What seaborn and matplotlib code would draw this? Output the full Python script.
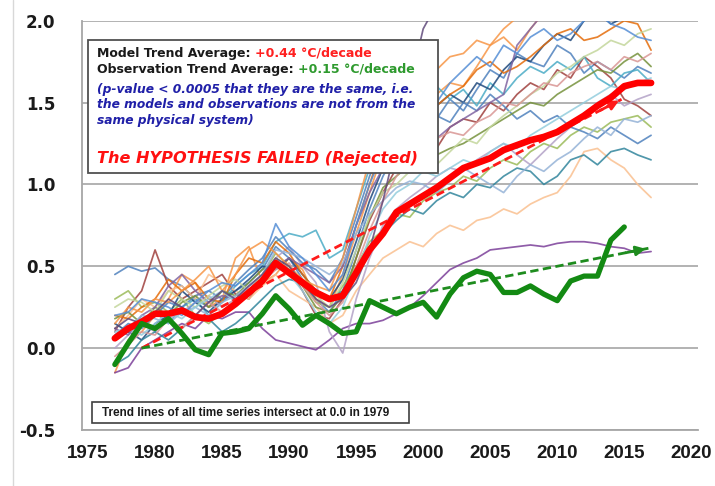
import numpy as np
import pandas as pd
import matplotlib.pyplot as plt
import seaborn as sns
from matplotlib.lines import Line2D
from matplotlib.patches import Rectangle

# ---------------- data ----------------
years = list(range(1977, 2018))
obs_years = list(range(1977, 2016))

# individual model runs, 1977..2017
run_01 = [0.45, 0.50, 0.47, 0.49, 0.42, 0.38, 0.30, 0.25, 0.28, 0.35,
          0.40, 0.48, 0.62, 0.55, 0.42, 0.30, 0.22, 0.35, 0.60, 0.85,
          1.05, 1.20, 1.32, 1.28, 1.40, 1.52, 1.45, 1.58, 1.70, 1.65,
          1.80, 1.75, 1.72, 1.85, 1.80, 1.68, 1.75, 1.70, 1.65, 1.72, 1.68]
run_02 = [0.10, 0.25, 0.35, 0.60, 0.38, 0.30, 0.35, 0.40, 0.45, 0.33,
          0.30, 0.42, 0.55, 0.48, 0.35, 0.20, 0.18, 0.30, 0.55, 0.78,
          0.95, 1.10, 1.15, 1.25, 1.22, 1.35, 1.40, 1.38, 1.50, 1.45,
          1.55, 1.62, 1.58, 1.70, 1.65, 1.78, 1.72, 1.65, 1.52, 1.48, 1.42]
run_03 = [-0.15, 0.05, 0.10, 0.20, 0.30, 0.45, 0.40, 0.25, 0.30, 0.55,
          0.62, 0.40, 0.45, 0.55, 0.48, 0.30, 0.25, 0.45, 0.70, 0.95,
          1.20, 1.15, 1.32, 1.45, 1.55, 1.62, 1.60, 1.72, 1.85, 1.90,
          1.82, 1.95, 2.05, 2.10, 2.15, 2.05, 2.20, 2.15, 2.10, 2.05, 2.12]
run_04 = [-0.15, -0.12, 0.00, 0.05, 0.10, 0.15, 0.12, 0.20, 0.18, 0.22,
          0.22, 0.12, 0.05, 0.03, 0.01, -0.01, 0.05, 0.12, 0.15, 0.15,
          0.17, 0.21, 0.25, 0.32, 0.40, 0.48, 0.52, 0.55, 0.60, 0.61,
          0.62, 0.63, 0.62, 0.64, 0.65, 0.65, 0.64, 0.62, 0.61, 0.58, 0.59]
run_05 = [0.30, 0.35, 0.25, 0.28, 0.22, 0.30, 0.20, 0.15, 0.22, 0.28,
          0.35, 0.45, 0.58, 0.50, 0.40, 0.28, 0.25, 0.38, 0.50, 0.65,
          0.72, 0.82, 0.80, 0.90, 0.95, 0.98, 1.05, 1.02, 1.10, 1.15,
          1.12, 1.20, 1.25, 1.22, 1.30, 1.35, 1.32, 1.38, 1.40, 1.42, 1.35]
run_06 = [0.05, 0.10, 0.18, 0.22, 0.15, 0.25, 0.30, 0.20, 0.28, 0.38,
          0.45, 0.50, 0.65, 0.70, 0.68, 0.72, 0.55, 0.60, 0.85, 1.10,
          1.40, 1.48, 1.45, 1.55, 1.60, 1.52, 1.58, 1.48, 1.62, 1.55,
          1.65, 1.72, 1.68, 1.75, 1.70, 1.78, 1.65, 1.60, 1.68, 1.70, 1.62]
run_07 = [0.12, 0.20, 0.30, 0.25, 0.35, 0.38, 0.30, 0.45, 0.40, 0.35,
          0.30, 0.38, 0.45, 0.35, 0.30, 0.25, 0.15, 0.20, 0.35, 0.45,
          0.55, 0.60, 0.65, 0.62, 0.70, 0.75, 0.72, 0.78, 0.80, 0.85,
          0.82, 0.88, 0.92, 0.95, 1.05, 1.20, 1.22, 1.15, 1.10, 1.00, 0.92]
run_08 = [0.15, 0.10, 0.05, 0.15, 0.20, 0.35, 0.28, 0.22, 0.30, 0.35,
          0.42, 0.50, 0.48, 0.55, 0.45, 0.35, 0.30, 0.42, 0.65, 0.90,
          1.10, 1.25, 1.38, 1.35, 1.48, 1.55, 1.50, 1.62, 1.58, 1.70,
          1.78, 1.75, 1.85, 1.92, 1.88, 2.00, 2.05, 1.98, 2.02, 2.08, 2.05]
run_09 = [0.00, 0.08, 0.15, 0.10, 0.18, 0.22, 0.28, 0.32, 0.25, 0.30,
          0.38, 0.42, 0.55, 0.62, 0.50, 0.40, 0.10, -0.03, 0.30, 0.55,
          0.75, 0.85, 0.92, 0.98, 1.05, 1.10, 1.08, 1.15, 1.20, 1.25,
          1.18, 1.12, 1.20, 1.28, 1.35, 1.42, 1.50, 1.55, 1.48, 1.52, 1.55]
run_10 = [0.08, 0.15, 0.12, 0.20, 0.28, 0.25, 0.32, 0.35, 0.30, 0.40,
          0.48, 0.55, 0.68, 0.60, 0.52, 0.48, 0.40, 0.55, 0.80, 1.05,
          1.25, 1.30, 1.22, 1.35, 1.42, 1.38, 1.50, 1.45, 1.55, 1.48,
          1.40, 1.45, 1.38, 1.42, 1.35, 1.32, 1.28, 1.35, 1.30, 1.25, 1.30]
run_11 = [-0.10, -0.05, 0.05, 0.10, 0.05, 0.12, 0.20, 0.18, 0.10, 0.15,
          0.22, 0.30, 0.38, 0.42, 0.40, 0.35, 0.30, 0.35, 0.48, 0.62,
          0.70, 0.78, 0.85, 0.82, 0.90, 0.95, 0.92, 1.00, 0.98, 1.05,
          1.10, 1.08, 1.00, 1.05, 1.15, 1.18, 1.12, 1.20, 1.22, 1.18, 1.15]
run_12 = [0.20, 0.18, 0.25, 0.30, 0.42, 0.35, 0.40, 0.30, 0.28, 0.45,
          0.55, 0.52, 0.65, 0.58, 0.45, 0.35, 0.30, 0.50, 0.75, 1.00,
          1.25, 1.35, 1.42, 1.50, 1.48, 1.55, 1.60, 1.70, 1.75, 1.68,
          1.72, 1.78, 1.85, 1.92, 1.95, 1.88, 1.90, 1.95, 2.00, 1.98, 1.82]
run_13 = [0.18, 0.22, 0.15, 0.25, 0.20, 0.28, 0.32, 0.25, 0.35, 0.32,
          0.40, 0.48, 0.52, 0.45, 0.38, 0.25, 0.22, 0.32, 0.55, 0.80,
          0.98, 1.05, 1.12, 1.08, 1.18, 1.22, 1.25, 1.30, 1.35, 1.40,
          1.45, 1.50, 1.48, 1.55, 1.60, 1.65, 1.70, 1.68, 1.75, 1.80, 1.72]
run_14 = [0.12, 0.08, 0.20, 0.25, 0.38, 0.45, 0.35, 0.28, 0.32, 0.30,
          0.35, 0.40, 0.50, 0.55, 0.50, 0.45, 0.40, 0.50, 0.75, 0.95,
          1.10, 1.20, 1.25, 1.30, 1.28, 1.35, 1.40, 1.45, 1.50, 1.55,
          1.85, 1.95, 2.05, 2.10, 2.15, 2.10, 2.20, 2.25, 2.20, 2.25, 2.30]
run_15 = [0.25, 0.30, 0.28, 0.22, 0.35, 0.30, 0.25, 0.32, 0.38, 0.42,
          0.35, 0.45, 0.55, 0.48, 0.42, 0.32, 0.25, 0.40, 0.60, 0.80,
          0.95, 1.00, 1.08, 1.15, 1.12, 1.20, 1.28, 1.25, 1.35, 1.42,
          1.48, 1.55, 1.60, 1.68, 1.72, 1.78, 1.82, 1.88, 1.85, 1.92, 1.95]
run_16 = [0.05, 0.12, 0.20, 0.18, 0.15, 0.22, 0.25, 0.20, 0.28, 0.32,
          0.38, 0.45, 0.60, 0.58, 0.55, 0.50, 0.45, 0.52, 0.70, 0.82,
          0.90, 0.98, 1.02, 1.00, 0.95, 1.02, 1.10, 1.05, 1.00, 0.95,
          1.05, 1.12, 1.08, 1.15, 1.20, 1.28, 1.35, 1.30, 1.40, 1.38, 1.42]
run_17 = [-0.05, 0.02, 0.10, 0.08, 0.18, 0.12, 0.20, 0.28, 0.22, 0.30,
          0.36, 0.40, 0.48, 0.52, 0.38, 0.28, 0.20, 0.28, 0.50, 0.72,
          0.90, 1.05, 1.15, 1.20, 1.28, 1.32, 1.30, 1.38, 1.42, 1.50,
          1.48, 1.55, 1.62, 1.60, 1.68, 1.72, 1.75, 1.70, 1.78, 1.75, 1.80]
run_18 = [0.15, 0.25, 0.22, 0.30, 0.28, 0.35, 0.42, 0.50, 0.35, 0.45,
          0.60, 0.65, 0.58, 0.50, 0.42, 0.38, 0.35, 0.55, 0.85, 1.15,
          1.40, 1.50, 1.55, 1.65, 1.70, 1.78, 1.80, 1.88, 1.85, 1.95,
          2.02, 2.10, 2.05, 2.15, 2.20, 2.18, 2.25, 2.20, 2.30, 2.28, 2.35]
run_19 = [0.10, 0.12, 0.08, 0.15, 0.22, 0.18, 0.25, 0.30, 0.35, 0.28,
          0.32, 0.42, 0.50, 0.45, 0.35, 0.22, 0.15, 0.25, 0.45, 0.68,
          0.85, 0.95, 1.00, 1.08, 1.05, 1.10, 1.15, 1.12, 1.20, 1.25,
          1.22, 1.30, 1.35, 1.40, 1.45, 1.50, 1.55, 1.60, 1.58, 1.62, 1.65]
run_20 = [0.20, 0.22, 0.30, 0.28, 0.25, 0.20, 0.28, 0.35, 0.40, 0.38,
          0.45, 0.52, 0.76, 0.62, 0.55, 0.45, 0.35, 0.45, 0.75, 1.00,
          1.20, 1.32, 1.45, 1.55, 1.50, 1.62, 1.70, 1.78, 1.72, 1.85,
          1.80, 1.90, 1.95, 1.88, 1.92, 2.00, 2.05, 1.98, 1.95, 1.90, 1.88]
run_21 = [0.12, 0.18, 0.15, 0.22, 0.30, 0.25, 0.20, 0.28, 0.35, 0.30,
          0.38, 0.45, 0.55, 0.50, 0.40, 0.30, 0.25, 0.30, 0.40, 0.60,
          0.90, 1.25, 1.60, 1.95, 2.10, 2.15, 2.20, 2.25, 2.30, 2.35,
          2.40, 2.35, 2.45, 2.50, 2.45, 2.55, 2.50, 2.60, 2.55, 2.60, 2.65]

model_avg = [0.06, 0.12, 0.16, 0.21, 0.21, 0.23, 0.19, 0.18, 0.21, 0.27,
             0.34, 0.41, 0.52, 0.46, 0.40, 0.34, 0.30, 0.32, 0.46, 0.60,
             0.70, 0.83, 0.88, 0.93, 0.98, 1.04, 1.10, 1.13, 1.16, 1.21,
             1.24, 1.27, 1.29, 1.32, 1.37, 1.42, 1.48, 1.53, 1.60, 1.62, 1.62]
obs_avg = [-0.10, 0.03, 0.15, 0.12, 0.18, 0.09, -0.01, -0.04, 0.09, 0.10,
           0.12, 0.21, 0.32, 0.24, 0.14, 0.20, 0.15, 0.09, 0.10, 0.29,
           0.25, 0.21, 0.25, 0.28, 0.19, 0.33, 0.43, 0.47, 0.45, 0.34,
           0.34, 0.38, 0.33, 0.29, 0.41, 0.44, 0.44, 0.66, 0.74]

# trend lines (start at 0.0 in 1979, arrow at the end)
model_trend_x = [1979, 2014.8]
model_trend_y = [0.0, 1.52]
obs_trend_x = [1979, 2016.8]
obs_trend_y = [0.0, 0.61]

runs = [run_01, run_02, run_03, run_04, run_05, run_06, run_07,
        run_08, run_09, run_10, run_11, run_12, run_13, run_14,
        run_15, run_16, run_17, run_18, run_19, run_20, run_21]
run_colors = ['#4F81BD', '#A0413E', '#F79646', '#7B3F99', '#9BBB59',
              '#4BACC6', '#FAC090', '#1F497D', '#B3A2C7', '#4F81BD',
              '#31859C', '#E46C0A', '#76923C', '#8064A2', '#C3D69B',
              '#95B3D7', '#D99694', '#F79646', '#93CDDD', '#558ED5',
              '#604A7B']

rows = []
for i, r in enumerate(runs):
    assert len(r) == len(years)
    for yr, v in zip(years, r):
        rows.append((f'run{i:02d}', yr, v))
df = pd.DataFrame(rows, columns=['run', 'year', 'anomaly'])
palette = {f'run{i:02d}': c for i, c in enumerate(run_colors)}

# ---------------- figure ----------------
W, H = 715, 486
sns.set_style('white')
plt.rcParams['font.family'] = ['DejaVu Sans']

fig = plt.figure(figsize=(W / 100, H / 100), dpi=100)
ax = fig.add_axes([82 / W, 1 - 430 / H, (698 - 82) / W, (430 - 20.7) / H])

sns.lineplot(data=df, x='year', y='anomaly', hue='run', palette=palette,
             legend=False, linewidth=1.25, alpha=0.85, errorbar=None, ax=ax)

ax.plot(model_trend_x, model_trend_y, color='#FF1A1A', lw=2,
        ls=(0, (3, 1.6)), zorder=5)
ax.plot(obs_trend_x, obs_trend_y, color='#1E8C1E', lw=2,
        ls=(0, (3, 1.6)), zorder=5)
for tx, ty, col in [(model_trend_x, model_trend_y, '#FF1A1A'),
                    (obs_trend_x, obs_trend_y, '#1E8C1E')]:
    x0 = tx[0] + 0.95 * (tx[1] - tx[0])
    y0 = ty[0] + 0.95 * (ty[1] - ty[0])
    ax.annotate('', xy=(tx[1], ty[1]), xytext=(x0, y0),
                arrowprops=dict(arrowstyle='-|>', color=col, lw=2,
                                mutation_scale=14), zorder=5)

sns.lineplot(x=years, y=model_avg, color='#FF0000', linewidth=4.8,
             errorbar=None, ax=ax, zorder=6)
sns.lineplot(x=obs_years, y=obs_avg, color='#138A13', linewidth=3.8,
             errorbar=None, ax=ax, zorder=7)

# axes
ax.set_xlim(1974.55, 2020.5)
ax.set_ylim(-0.5, 2.0)
ax.set_xticks(range(1975, 2021, 5))
ax.set_xticks(range(1975, 2021), minor=True)
ax.set_yticks(np.arange(-0.5, 2.01, 0.5))
ax.set_yticklabels([f'{v:.1f}' for v in np.arange(-0.5, 2.01, 0.5)])
ax.set_xlabel('')
ax.set_ylabel('')
ax.yaxis.grid(True, color='#A6A6A6', lw=1.2)
ax.xaxis.grid(False)
ax.set_axisbelow(True)
for s in ['top', 'right']:
    ax.spines[s].set_visible(False)
for s in ['left', 'bottom']:
    ax.spines[s].set_color('#A6A6A6')
    ax.spines[s].set_linewidth(1.3)
ax.tick_params(axis='x', which='both', direction='out', length=4,
               width=1, color='#A6A6A6', pad=7)
ax.tick_params(axis='y', which='major', direction='out', length=5,
               width=1, color='#A6A6A6', pad=14)
for lab in ax.get_xticklabels():
    lab.set_fontfamily('Liberation Sans')
    lab.set_fontweight('bold')
    lab.set_fontsize(13.5)
    lab.set_color('#1a1a1a')
for lab in ax.get_yticklabels():
    lab.set_fontweight('bold')
    lab.set_fontsize(12)
    lab.set_color('#1a1a1a')

# ---------------- annotation boxes ----------------
def fx(px):
    return px / W


def fy(py):
    return 1 - py / H


ft = fig.transFigure
ax.add_patch(Rectangle((fx(88), fy(173)), fx(438) - fx(88), fy(40) - fy(173),
                       transform=ft, facecolor='white', edgecolor='#505050',
                       lw=1.3, zorder=10, clip_on=False))
t1 = ax.text(fx(97), fy(57), 'Model Trend Average: ', transform=ft,
             fontsize=9, fontweight='bold', color='#1a1a1a',
             va='baseline', zorder=11)
ax.annotate('+0.44 °C/decade', xy=(1, 0), xycoords=t1, va='bottom',
            fontsize=9, fontweight='bold', color='#FF2020', zorder=11)
t2 = ax.text(fx(97), fy(73), 'Observation Trend Average: ', transform=ft,
             fontsize=9, fontweight='bold', color='#1a1a1a',
             va='baseline', zorder=11)
ax.annotate('+0.15 °C/decade', xy=(1, 0), xycoords=t2, va='bottom',
            fontsize=9, fontweight='bold', color='#2E9A2E', zorder=11)
for txt, by in [('(p-value < 0.0005 that they are the same, i.e.', 93),
                ('the models and observations are not from the', 108.5),
                ('same physical system)', 124)]:
    ax.text(fx(97), fy(by), txt, transform=ft, fontsize=8.8,
            fontweight='bold', fontstyle='italic', color='#2020A8',
            va='baseline', zorder=11)
ax.text(fx(97), fy(163), 'The HYPOTHESIS FAILED (Rejected)', transform=ft,
        fontsize=11.6, fontweight='bold', fontstyle='italic',
        color='#FF1010', va='baseline', zorder=11)

ax.add_patch(Rectangle((fx(92), fy(423)), fx(409) - fx(92), fy(402) - fy(423),
                       transform=ft, facecolor='white', edgecolor='#404040',
                       lw=1.2, zorder=10, clip_on=False))
ax.text(fx(102), fy(416.5), 'Trend lines of all time series intersect at 0.0 in 1979',
        transform=ft, fontsize=8.5, fontweight='bold', family='Liberation Sans',
        color='#1a1a1a', va='baseline', zorder=11)

fig.add_artist(Line2D([fx(13), fx(13)], [0, 1], transform=ft,
                      color='#D8D8D8', lw=1))

fig.savefig('out.png', dpi=100)
